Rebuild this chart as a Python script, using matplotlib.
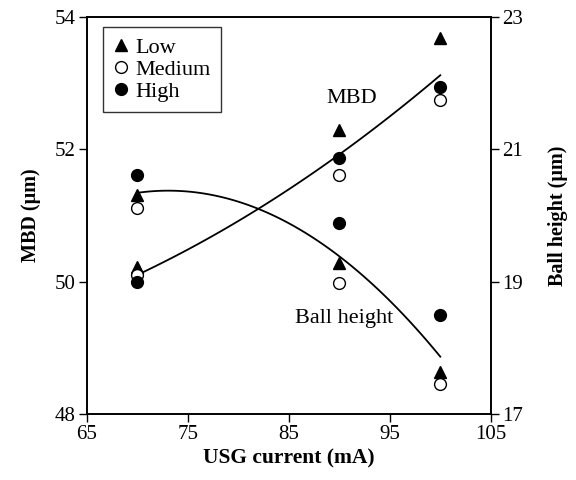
#!/usr/bin/env python3
"""Plot MBD and ball height against USG current for three force levels."""

import sys

import matplotlib
matplotlib.use('Agg')
import matplotlib.pyplot as plt
import numpy as np

# USG current (mA)
current = [70, 90, 100]

# MBD (um), left axis
mbd_low = [50.22, 52.29, 53.68]
mbd_medium = [50.10, 51.61, 52.74]
mbd_high = [49.99, 51.87, 52.94]

# Ball height (um), right axis
ball_low = [20.31, 19.28, 17.64]
ball_medium = [20.11, 18.98, 17.46]
ball_high = [20.61, 19.89, 18.50]

x_ticks = [65, 75, 85, 95, 105]
mbd_ticks = [48, 50, 52, 54]
ball_ticks = [17, 19, 21, 23]


def trend(ax, x, series):
    """Draw a quadratic trend through the mean of the series."""
    mean = np.mean(series, axis=0)
    coef = np.polyfit(x, mean, 2)
    xs = np.linspace(min(x), max(x), 100)
    ax.plot(xs, np.polyval(coef, xs), 'k-', linewidth=1.3, zorder=2)


def scatter(ax, x, low, medium, high):
    """Draw the three marker series, return their handles."""
    kw = dict(linestyle='none', markersize=8.5, zorder=3)
    h1, = ax.plot(x, low, marker='^', color='k', label='Low', **kw)
    h2, = ax.plot(x, medium, marker='o', mfc='white', mec='k',
                  mew=1.0, label='Medium', **kw)
    h3, = ax.plot(x, high, marker='o', color='k', label='High', **kw)
    return [h1, h2, h3]


def main() -> int:
    plt.rcParams['font.family'] = ['Liberation Serif', 'DejaVu Serif']
    plt.rcParams['font.size'] = 15

    fig = plt.figure(figsize=(5.76, 4.8), dpi=100)
    ax = fig.add_axes([0.151, 0.1375, 0.701, 0.827])
    ax2 = ax.twinx()

    trend(ax, current, [mbd_low, mbd_medium, mbd_high])
    handles = scatter(ax, current, mbd_low, mbd_medium, mbd_high)
    trend(ax2, current, [ball_low, ball_medium, ball_high])
    scatter(ax2, current, ball_low, ball_medium, ball_high)

    ax.set_xlim(65, 105)
    ax.set_ylim(48, 54)
    ax2.set_ylim(17, 23)
    ax.set_xticks(x_ticks)
    ax.set_yticks(mbd_ticks)
    ax2.set_yticks(ball_ticks)

    for a in (ax, ax2):
        a.tick_params(direction='out', length=6, width=1, labelsize=15, pad=2)
        for sp in a.spines.values():
            sp.set_linewidth(1.2)

    ax.set_xlabel('USG current (mA)', fontweight='bold', fontsize=15.5,
                  labelpad=3)
    ax.set_ylabel('MBD (μm)', fontweight='bold', fontsize=14.5, labelpad=10)
    ax2.set_ylabel('Ball height (μm)', fontweight='bold', fontsize=14.5,
                   labelpad=18)

    ax.text(91.2, 52.77, 'MBD', ha='center', va='center', fontsize=16)
    ax.text(90.5, 49.45, 'Ball height', ha='center', va='center', fontsize=16)

    leg = ax2.legend(handles=handles, loc='upper left',
                     bbox_to_anchor=(0.04, 0.975), borderaxespad=0,
                     frameon=True, fancybox=False, edgecolor='k',
                     handlelength=0.7, handletextpad=0.3, labelspacing=0.08,
                     borderpad=0.45, fontsize=16)
    leg.get_frame().set_linewidth(1.0)

    fig.savefig('out.png', dpi=100)
    plt.close(fig)
    return 0


if __name__ == '__main__':
    sys.exit(main())
